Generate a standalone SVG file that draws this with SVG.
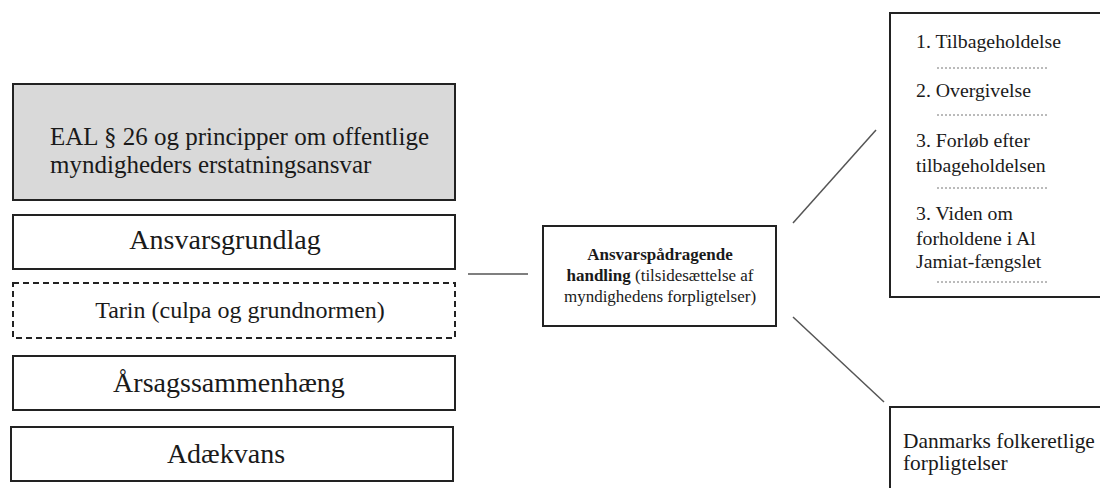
<svg xmlns="http://www.w3.org/2000/svg" width="1100" height="488" viewBox="0 0 1100 488">
<style>
  .box{fill:#ffffff;stroke:#222222;stroke-width:2}
  .gray{fill:#d9d9d9}
  .dash{stroke-dasharray:6 4}
  .t{font-family:"Liberation Serif","Times New Roman",serif;fill:#1a1a1a}
  .conn{stroke:#555555;stroke-width:1.5;fill:none}
  .dot{stroke:#777777;stroke-width:1;stroke-dasharray:2 2}
</style>
<rect width="1100" height="488" fill="#ffffff"/>
<g id="connectors">
  <line class="conn" x1="468" y1="274" x2="528" y2="274"/>
  <line class="conn" x1="793" y1="223" x2="876" y2="130"/>
  <line class="conn" x1="793" y1="317" x2="884" y2="402"/>
</g>
<g id="node-eal">
  <rect class="box gray" x="13" y="84" width="442" height="116"/>
  <text class="t" x="50" y="145" font-size="25">EAL § 26 og principper om offentlige</text>
  <text class="t" x="50" y="173" font-size="25">myndigheders erstatningsansvar</text>
</g>
<g id="node-ansvarsgrundlag">
  <rect class="box" x="13" y="215" width="442" height="54"/>
  <text class="t" x="225" y="249" font-size="28" text-anchor="middle">Ansvarsgrundlag</text>
</g>
<g id="node-tarin">
  <rect class="box dash" x="13" y="283" width="442" height="55"/>
  <text class="t" x="240" y="318" font-size="24" text-anchor="middle">Tarin (culpa og grundnormen)</text>
</g>
<g id="node-aarsag">
  <rect class="box" x="13" y="356" width="442" height="54"/>
  <text class="t" x="229" y="392" font-size="28" text-anchor="middle">Årsagssammenhæng</text>
</g>
<g id="node-adaekvans">
  <rect class="box" x="11" y="427" width="442" height="54"/>
  <text class="t" x="226" y="463" font-size="28" text-anchor="middle">Adækvans</text>
</g>
<g id="node-handling">
  <rect class="box" x="543" y="226" width="233" height="100"/>
  <text class="t" x="660" y="260" font-size="17" text-anchor="middle" font-weight="bold">Ansvarspådragende</text>
  <text class="t" x="660" y="281" font-size="17" text-anchor="middle"><tspan font-weight="bold">handling</tspan> (tilsidesættelse af</text>
  <text class="t" x="660" y="302" font-size="17" text-anchor="middle">myndighedens forpligtelser)</text>
</g>
<g id="node-list">
  <rect class="box" x="890" y="13" width="220" height="284"/>
  <text class="t" x="916" y="48" font-size="19.8">1. Tilbageholdelse</text>
  <line class="dot" x1="937" y1="68" x2="1047" y2="68"/>
  <text class="t" x="916" y="97" font-size="19.8">2. Overgivelse</text>
  <line class="dot" x1="937" y1="115" x2="1047" y2="115"/>
  <text class="t" x="916" y="147" font-size="19.8">3. Forløb efter</text>
  <text class="t" x="916" y="172" font-size="19.8">tilbageholdelsen</text>
  <line class="dot" x1="937" y1="188" x2="1047" y2="188"/>
  <text class="t" x="916" y="220" font-size="19.8">3. Viden om</text>
  <text class="t" x="916" y="245" font-size="19.8">forholdene i Al</text>
  <text class="t" x="916" y="268" font-size="19.8">Jamiat-fængslet</text>
  <line class="dot" x1="937" y1="282" x2="1047" y2="282"/>
</g>
<g id="node-danmark">
  <rect class="box" x="890" y="407" width="220" height="100"/>
  <text class="t" x="903" y="448" font-size="21.4">Danmarks folkeretlige</text>
  <text class="t" x="903" y="470" font-size="21.4">forpligtelser</text>
</g>
</svg>
